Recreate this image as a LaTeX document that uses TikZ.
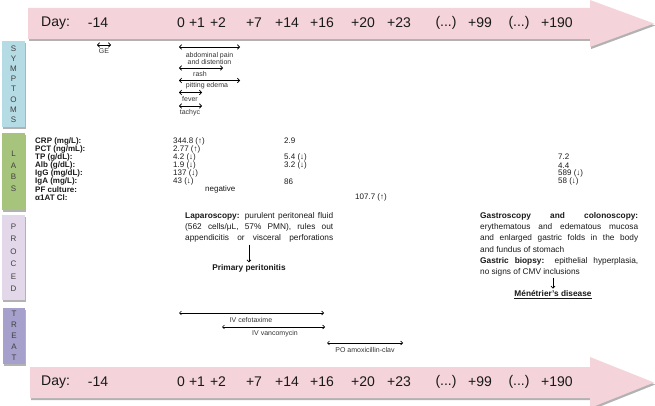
\documentclass[tikz,border=0pt]{standalone}
\usepackage{fontspec}
\setmainfont{Liberation Sans}
\usetikzlibrary{arrows.meta,shadows}
\definecolor{arrpink}{RGB}{244,212,218}
\definecolor{symcol}{RGB}{181,219,228}
\definecolor{labcol}{RGB}{166,196,124}
\definecolor{proccol}{RGB}{226,216,233}
\definecolor{treatcol}{RGB}{165,160,204}
\definecolor{txt}{RGB}{25,25,25}
\begin{document}
\begin{tikzpicture}[x=1pt,y=-1pt,
  shd/.style={drop shadow={shadow xshift=1.2pt,shadow yshift=-2pt,opacity=0.3,fill=black}},
  daylbl/.style={font=\fontsize{14}{15}\selectfont,inner sep=0,text=txt},
  sidebox/.style={shd,minimum width=23pt,inner sep=0,align=center,text=black!75},
  sym/.style={font=\fontsize{7}{7.8}\selectfont,text=black!80,inner sep=0,align=center},
  spanarr/.style={{Straight Barb[length=2pt,width=4.5pt]}-{Straight Barb[length=2pt,width=4.5pt]},line width=0.8pt},
  trarr/.style={{Straight Barb[length=2pt,width=4pt]}-{Straight Barb[length=2pt,width=4pt]},line width=0.6pt},
  lablbl/.style={font=\bfseries\fontsize{8}{8}\selectfont,anchor=west,inner sep=0,text=txt},
  labval/.style={font=\fontsize{8}{8}\selectfont,anchor=west,inner sep=0,text=txt},
  para/.style={font=\fontsize{8.3}{11.3}\selectfont,align=left,inner sep=0,text=txt},
  result/.style={font=\bfseries\fontsize{8.3}{9}\selectfont,inner sep=0,text=txt},
  downarr/.style={-{Straight Barb[length=2pt,width=4pt]},line width=0.8pt},
  trlbl/.style={font=\fontsize{7}{7.5}\selectfont,text=black!80,inner sep=0}]
\useasboundingbox (0,0) rectangle (655,406);

% time arrows
\fill[arrpink,shd] (28,8) -- (590,8) -- (590,0) -- (654,23.5) -- (590,47) -- (590,39) -- (28,39) -- cycle;
\fill[arrpink,shd] (30,367) -- (590,367) -- (590,357) -- (654,382.5) -- (590,408) -- (590,398) -- (30,398) -- cycle;

\node[daylbl,anchor=west] (tday) at (41,23) {Day:};
\node[daylbl,anchor=west] (bday) at (41,382) {Day:};
\foreach \t/\x [count=\i] in {-14/98,0/181,+1/197,+2/218,+7/254,+14/287,+16/322,+20/363,+23/399,{(...)}/446,+99/480,{(...)}/519,+190/557}{
  \node[daylbl] (top\i) at (\x,23) {\t};
  \node[daylbl] (bot\i) at (\x,382) {\t};
}

% side boxes
\node[sidebox,fill=symcol,minimum height=86pt,font=\fontsize{8}{10.2}\selectfont] (symbox) at (13.5,84) {S\\Y\\M\\P\\T\\O\\M\\S};
\node[sidebox,fill=labcol,minimum height=77pt,font=\fontsize{8}{11.5}\selectfont] (labbox) at (13.5,171.5) {L\\A\\B\\S};
\node[sidebox,fill=proccol,minimum height=85pt,font=\fontsize{8}{12.5}\selectfont] (procbox) at (13.5,257.5) {P\\R\\O\\C\\E\\D};
\node[sidebox,fill=treatcol,minimum height=56pt,minimum width=22pt,font=\fontsize{8}{11}\selectfont] (treatbox) at (14,336) {T\\R\\E\\A\\T};

% symptoms
\coordinate (ge1) at (97,45); \coordinate (ge2) at (111,45);
\coordinate (abd1) at (179,47); \coordinate (abd2) at (240,47);
\coordinate (rash1) at (179,68); \coordinate (rash2) at (223,68);
\coordinate (pit1) at (179,80.5); \coordinate (pit2) at (240,80.5);
\coordinate (fev1) at (179,92.5); \coordinate (fev2) at (202,92.5);
\coordinate (tac1) at (179,106); \coordinate (tac2) at (202,106);
\draw[spanarr] (ge1) -- (ge2);
\draw[spanarr] (abd1) -- (abd2);
\draw[spanarr] (rash1) -- (rash2);
\draw[spanarr] (pit1) -- (pit2);
\draw[spanarr] (fev1) -- (fev2);
\draw[spanarr] (tac1) -- (tac2);
\node[sym] (gelbl) at (104,51.5) {GE};
\node[sym] (abdlbl) at (209.5,58.5) {abdominal pain\\and distention};
\node[sym] (rashlbl) at (200,73.5) {rash};
\node[sym] (pitlbl) at (207,86) {pitting edema};
\node[sym] (fevlbl) at (190,99.5) {fever};
\node[sym] (taclbl) at (190,113) {tachyc};

% labs
\foreach \l [count=\i] in {CRP (mg/L):,PCT (ng/mL):,TP (g/dL):,Alb (g/dL):,IgG (mg/dL):,IgA (mg/L):,PF culture:,α1AT Cl:}{
  \node[lablbl] (lab\i) at (35,{141+8.1*(\i-1)}) {\l};
}
\node[labval] (v11) at (173,141) {344.8 (↑)};
\node[labval] (v12) at (173,149.1) {2.77 (↑)};
\node[labval] (v13) at (173,157.2) {4.2 (↓)};
\node[labval] (v14) at (173,165.3) {1.9 (↓)};
\node[labval] (v15) at (173,173.4) {137 (↓)};
\node[labval] (v16) at (173,181.5) {43 (↓)};
\node[labval] (v17) at (205,189.6) {negative};
\node[labval] (v21) at (284,141) {2.9};
\node[labval] (v23) at (284,157.2) {5.4 (↓)};
\node[labval] (v24) at (284,165.3) {3.2 (↓)};
\node[labval] (v26) at (284,181.5) {86};
\node[labval] (v28) at (355,197.7) {107.7 (↑)};
\node[labval] (v33) at (558,157.2) {7.2};
\node[labval] (v34) at (558,165.3) {4.4};
\node[labval] (v35) at (558,173.4) {589 (↓)};
\node[labval] (v36) at (558,181.5) {58 (↓)};

% procedures
\node[para,anchor=north west] (lap) at (185,212) {\makebox[148pt][s]{\textbf{Laparoscopy:} purulent peritoneal fluid}\\\makebox[148pt][s]{(562 cells/μL, 57\% PMN), rules out}\\\makebox[148pt][s]{appendicitis or visceral perforations}};
\node[result] (prim) at (249,268) {Primary peritonitis};
\draw[downarr,shorten <=2pt,shorten >=1.5pt] (prim.north |- lap.south) -- (prim.north);

\node[para,anchor=north west] (gas) at (480,212) {\makebox[158pt][s]{\textbf{Gastroscopy and colonoscopy:}}\\\makebox[158pt][s]{erythematous and edematous mucosa}\\\makebox[158pt][s]{and enlarged gastric folds in the body}\\and fundus of stomach\\\makebox[158pt][s]{\textbf{Gastric biopsy:} epithelial hyperplasia,}\\no signs of CMV inclusions};
\node[result] (men) at (553,294.5) {\underline{Ménétrier's disease}};
\draw[downarr,shorten <=1pt,shorten >=1.5pt] (men.north |- gas.south) -- (men.north);

% treatment
\coordinate (cef1) at (179,313); \coordinate (cef2) at (324,313);
\coordinate (van1) at (222,327); \coordinate (van2) at (325,327);
\coordinate (po1) at (327,343); \coordinate (po2) at (403,343);
\draw[trarr] (cef1) -- (cef2);
\draw[trarr] (van1) -- (van2);
\draw[trarr] (po1) -- (po2);
\node[trlbl] (ceflbl) at (251,319.5) {IV cefotaxime};
\node[trlbl] (vanlbl) at (275,333.5) {IV vancomycin};
\node[trlbl] (polbl) at (365,349.5) {PO amoxicillin-clav};
\end{tikzpicture}
\end{document}
